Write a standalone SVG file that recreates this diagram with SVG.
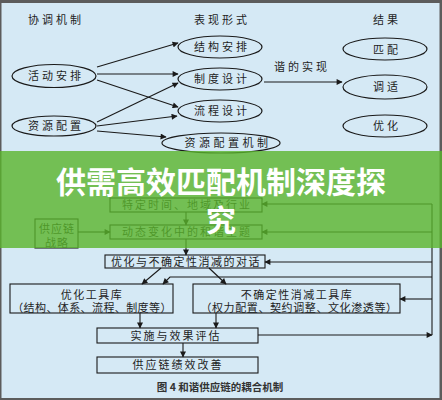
<svg xmlns="http://www.w3.org/2000/svg" width="442" height="400" viewBox="0 0 442 400">
<defs>
<marker id="ah" viewBox="0 0 10 10" refX="9" refY="5" markerWidth="8" markerHeight="6" markerUnits="userSpaceOnUse" orient="auto">
<path d="M0,0 L10,5 L0,10 z" fill="#1a1a1a"/>
</marker>
<style>
.t{font-family:"Noto Sans CJK SC","Noto Sans",sans-serif;font-size:11px;fill:#1e1e1e;text-anchor:middle}
.e{fill:none;stroke:#1a1a1a;stroke-width:1.2}
.b{fill:none;stroke:#1a1a1a;stroke-width:1.1}
.c line,.c path{stroke:#1a1a1a;stroke-width:1.1;fill:none;marker-end:url(#ah)}
.p{stroke:#1a1a1a;stroke-width:1.1;fill:none}
</style>
</defs>
<rect x="0" y="0" width="442" height="400" fill="#5c5c5c"/>
<rect x="1.5" y="3" width="438" height="395" fill="#d5e9f5"/>

<g id="headers">
<text class="t" x="56" y="24" letter-spacing="3">协调机制</text>
<text class="t" x="222" y="24" letter-spacing="3">表现形式</text>
<text class="t" x="387" y="24" letter-spacing="3">结果</text>
</g>

<g id="n-huodong"><ellipse class="e" cx="54" cy="76" rx="42" ry="11.5"/><text class="t" x="56" y="80" letter-spacing="3">活动安排</text></g>
<g id="n-ziyuan"><ellipse class="e" cx="54" cy="126" rx="42" ry="10"/><text class="t" x="56" y="130" letter-spacing="3">资源配置</text></g>
<g id="n-jiegou"><ellipse class="e" cx="220" cy="47" rx="42" ry="11"/><text class="t" x="222" y="51" letter-spacing="3">结构安排</text></g>
<g id="n-zhidu"><ellipse class="e" cx="220" cy="79" rx="42" ry="11"/><text class="t" x="222" y="83" letter-spacing="3">制度设计</text></g>
<g id="n-liucheng"><ellipse class="e" cx="220" cy="111" rx="42" ry="11"/><text class="t" x="222" y="115" letter-spacing="3">流程设计</text></g>
<g id="n-ziyuanjizhi"><ellipse class="e" cx="221" cy="143" rx="59" ry="10"/><text class="t" x="228" y="147" letter-spacing="3.5">资源配置机制</text></g>
<g id="n-pipei"><ellipse class="e" cx="385" cy="49" rx="42" ry="11"/><text class="t" x="387" y="54" letter-spacing="3">匹配</text></g>
<g id="n-tiaoshi"><ellipse class="e" cx="385" cy="87" rx="42" ry="12"/><text class="t" x="387" y="91" letter-spacing="3">调适</text></g>
<g id="n-youhua"><ellipse class="e" cx="385" cy="126" rx="42" ry="11"/><text class="t" x="387" y="130" letter-spacing="3">优化</text></g>
<g id="l-xie"><text class="t" x="302" y="71" letter-spacing="3">谐的实现</text></g>

<g id="n-tedingshijian"><rect class="b" x="110" y="198" width="152" height="14"/><text class="t" x="187" y="209" letter-spacing="2">特定时间、地域及行业</text></g>
<g id="n-dongtai"><rect class="b" x="110" y="225" width="152" height="14"/><text class="t" x="187" y="236" letter-spacing="2">动态变化中的和谐主题</text></g>
<g id="n-zhanlue"><rect class="b" x="35" y="219" width="43" height="29"/><text class="t" x="57" y="233" letter-spacing="1">供应链</text><text class="t" x="57" y="247" letter-spacing="1">战略</text></g>
<g id="n-duihua"><rect class="b" x="105" y="255" width="160" height="13"/><text class="t" x="186" y="265.5" letter-spacing="1.5">优化与不确定性消减的对话</text></g>
<g id="n-youhuaku"><rect class="b" x="10" y="284" width="163" height="29"/><text class="t" x="92" y="298.5" letter-spacing="1.5">优化工具库</text><text class="t" x="92" y="312" letter-spacing="0.4">（结构、体系、流程、制度等）</text></g>
<g id="n-quedingku"><rect class="b" x="193" y="284" width="207" height="29"/><text class="t" x="297" y="298.5" letter-spacing="1.5">不确定性消减工具库</text><text class="t" x="299" y="312" letter-spacing="0.6">（权力配置、契约调整、文化渗透等）</text></g>
<g id="n-shishi"><rect class="b" x="97" y="328" width="161" height="15"/><text class="t" x="176" y="339.5" letter-spacing="2">实施与效果评估</text></g>
<g id="n-jixiao"><rect class="b" x="97" y="357" width="161" height="16"/><text class="t" x="178" y="369" letter-spacing="2">供应链绩效改善</text></g>

<g id="connectors" class="c">
<line x1="97" y1="67" x2="178" y2="43"/>
<line x1="97" y1="74" x2="178" y2="74"/>
<line x1="97" y1="80" x2="178" y2="107"/>
<line x1="97" y1="122" x2="178" y2="83"/>
<line x1="97" y1="126" x2="177" y2="116"/>
<line x1="97" y1="131" x2="166" y2="137"/>
<line x1="264" y1="82" x2="342" y2="82"/>
<line x1="186" y1="212" x2="186" y2="225"/>
<line x1="186" y1="239" x2="186" y2="255"/>
<line x1="78" y1="232" x2="110" y2="232"/>
<line class="p" x1="432" y1="204" x2="432" y2="335" style="marker-end:none"/>
<line x1="258" y1="335" x2="432" y2="335"/>
<line x1="432" y1="204" x2="262" y2="204"/>
<line x1="432" y1="232" x2="262" y2="232"/>
<line x1="432" y1="262" x2="265" y2="262"/>
<line x1="432" y1="299" x2="400" y2="299"/>
<path d="M432,277 L170,277 L163,284"/>
<line x1="161" y1="268" x2="142" y2="284"/>
<line x1="209" y1="268" x2="226" y2="284"/>
<line x1="140" y1="313" x2="140" y2="328"/>
<line x1="216" y1="313" x2="216" y2="328"/>
<line x1="183" y1="343" x2="183" y2="357"/>
</g>

<g id="caption"><text x="220" y="391" style="font-family:'Noto Sans CJK SC','Noto Sans',sans-serif;font-size:10.5px;font-weight:bold;fill:#333;text-anchor:middle">图 4  和谐供应链的耦合机制</text></g>

<g id="banner">
<rect x="0" y="151" width="442" height="97" fill="#5ab42c" opacity="0.8"/>
<text x="221" y="193" style="font-family:'Noto Sans CJK SC',sans-serif;font-size:30px;font-weight:bold;fill:#ffffff;text-anchor:middle">供需高效匹配机制深度探</text>
<text x="221" y="231" style="font-family:'Noto Sans CJK SC',sans-serif;font-size:30px;font-weight:bold;fill:#ffffff;text-anchor:middle">究</text>
</g>
</svg>
